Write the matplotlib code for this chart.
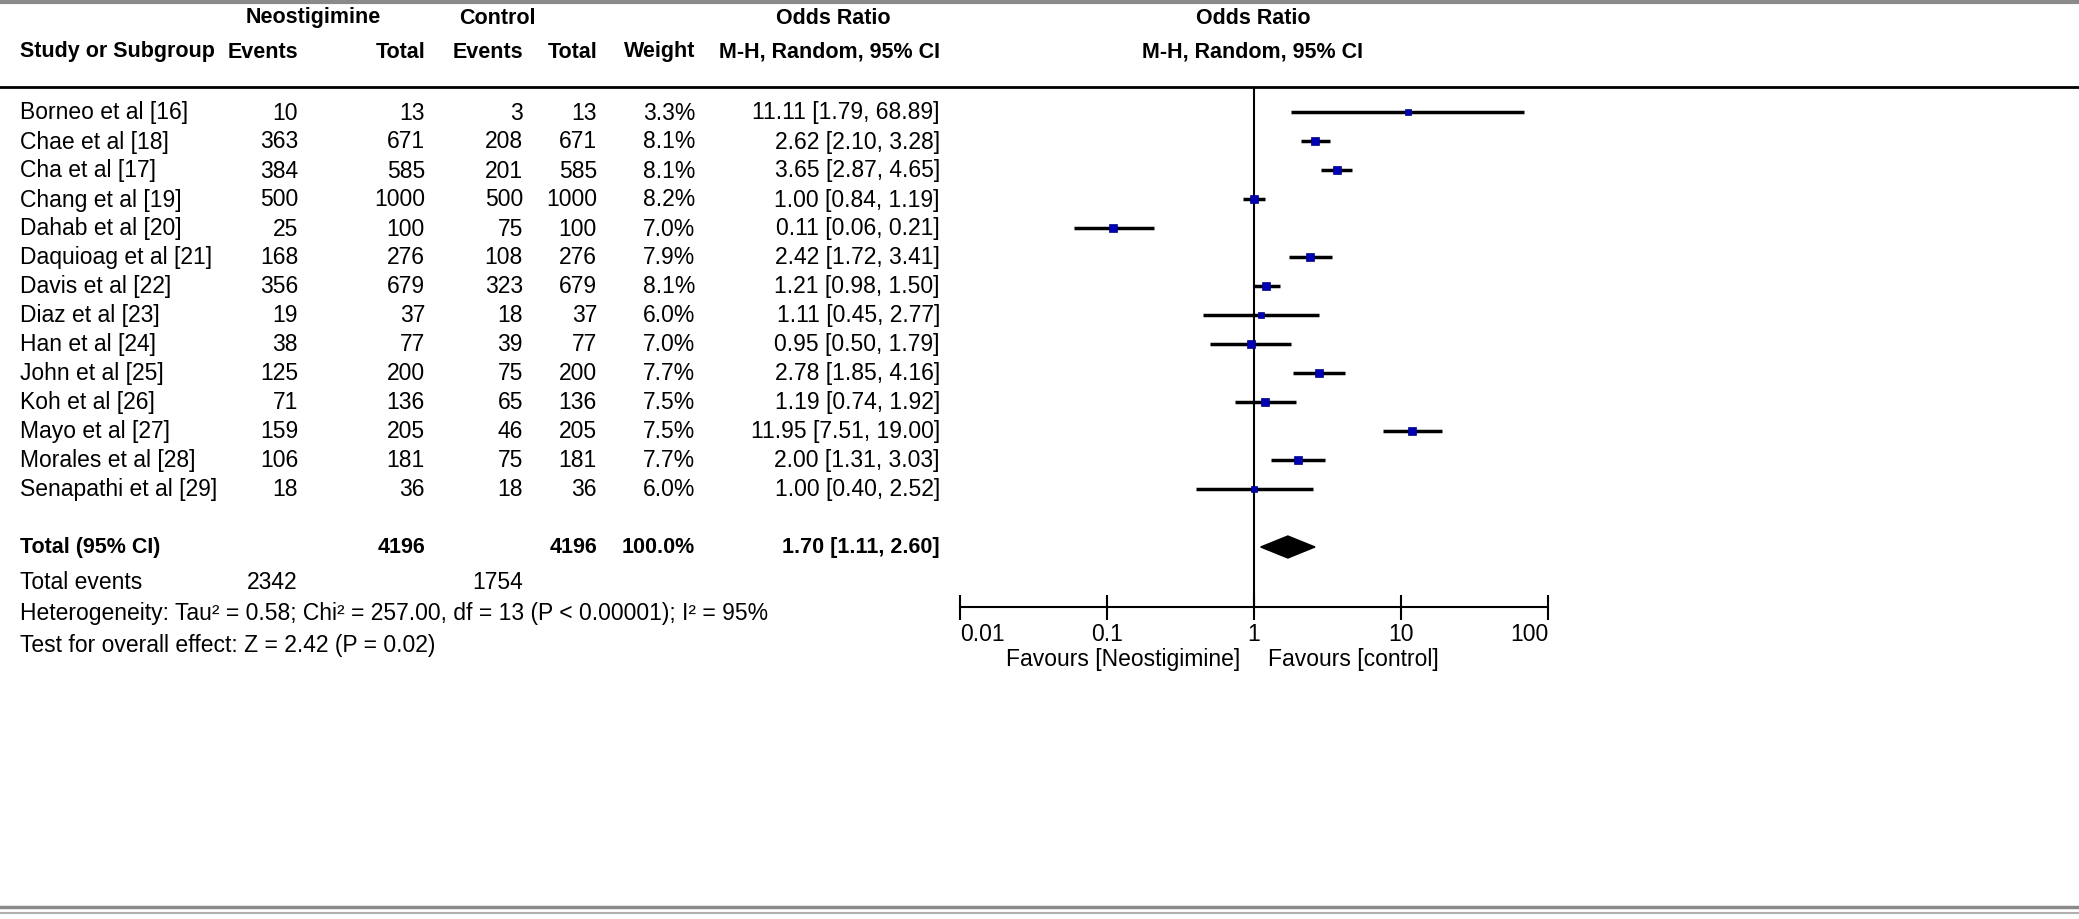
import matplotlib
matplotlib.use('Agg')
import matplotlib.pyplot as plt
from matplotlib.patches import Polygon

plt.rcParams['font.family'] = ['Liberation Sans', 'DejaVu Sans']

studies = ['Borneo et al [16]', 'Chae et al [18]', 'Cha et al [17]', 'Chang et al [19]',
           'Dahab et al [20]', 'Daquioag et al [21]', 'Davis et al [22]', 'Diaz et al [23]',
           'Han et al [24]', 'John et al [25]', 'Koh et al [26]', 'Mayo et al [27]',
           'Morales et al [28]', 'Senapathi et al [29]']
neo_events = [10, 363, 384, 500, 25, 168, 356, 19, 38, 125, 71, 159, 106, 18]
neo_total = [13, 671, 585, 1000, 100, 276, 679, 37, 77, 200, 136, 205, 181, 36]
ctrl_events = [3, 208, 201, 500, 75, 108, 323, 18, 39, 75, 65, 46, 75, 18]
ctrl_total = [13, 671, 585, 1000, 100, 276, 679, 37, 77, 200, 136, 205, 181, 36]
weights = [3.3, 8.1, 8.1, 8.2, 7.0, 7.9, 8.1, 6.0, 7.0, 7.7, 7.5, 7.5, 7.7, 6.0]
or_est = [11.11, 2.62, 3.65, 1.00, 0.11, 2.42, 1.21, 1.11, 0.95, 2.78, 1.19, 11.95, 2.00, 1.00]
ci_lo = [1.79, 2.10, 2.87, 0.84, 0.06, 1.72, 0.98, 0.45, 0.50, 1.85, 0.74, 7.51, 1.31, 0.40]
ci_hi = [68.89, 3.28, 4.65, 1.19, 0.21, 3.41, 1.50, 2.77, 1.79, 4.16, 1.92, 19.00, 3.03, 2.52]

total_neo = 4196
total_ctrl = 4196
total_or = (1.70, 1.11, 2.60)
events_neo = 2342
events_ctrl = 1754
het_text = 'Heterogeneity: Tau\u00b2 = 0.58; Chi\u00b2 = 257.00, df = 13 (P < 0.00001); I\u00b2 = 95%'
effect_text = 'Test for overall effect: Z = 2.42 (P = 0.02)'
xticks = [0.01, 0.1, 1, 10, 100]
xticklabels = ['0.01', '0.1', '1', '10', '100']

W, H = 2079, 920
fig = plt.figure(figsize=(W / 100, H / 100), dpi=100)

# full-figure axes in pixel units for the table text
ax0 = fig.add_axes([0, 0, 1, 1])
ax0.set_xlim(0, W)
ax0.set_ylim(H, 0)
ax0.axis('off')

fs = 16.5
fsb = 15.5
row0, dy = 113, 29
col_x = [298, 425, 523, 597, 695, 940]

# borders and header rule
ax0.axhline(3, color='#8a8a8a', lw=3)
ax0.axhline(908, color='#8a8a8a', lw=2.5)
ax0.axhline(914, color='#b0b0b0', lw=1.5)
ax0.axhline(88, color='black', lw=2)

bold = dict(fontsize=fsb, fontweight='bold', va='center')
ax0.text(313, 18, 'Neostigimine', ha='center', **bold)
ax0.text(497, 18, 'Control', ha='center', **bold)
ax0.text(833, 18, 'Odds Ratio', ha='center', **bold)
ax0.text(1253, 18, 'Odds Ratio', ha='center', **bold)
ax0.text(20, 52, 'Study or Subgroup', ha='left', **bold)
for x, lab in zip(col_x, ['Events', 'Total', 'Events', 'Total', 'Weight', 'M-H, Random, 95% CI']):
    ax0.text(x, 52, lab, ha='right', **bold)
ax0.text(1253, 52, 'M-H, Random, 95% CI', ha='center', **bold)

norm = dict(fontsize=fs, va='center')
for i, s in enumerate(studies):
    y = row0 + i * dy
    ax0.text(20, y, s, ha='left', **norm)
    vals = [str(neo_events[i]), str(neo_total[i]), str(ctrl_events[i]), str(ctrl_total[i]),
            '%.1f%%' % weights[i], '%.2f [%.2f, %.2f]' % (or_est[i], ci_lo[i], ci_hi[i])]
    for x, v in zip(col_x, vals):
        ax0.text(x, y, v, ha='right', **norm)

y_tot = 548
ax0.text(20, y_tot, 'Total (95% CI)', ha='left', **bold)
for x, v in zip(col_x[1:], [str(total_neo), '', str(total_ctrl), '100.0%',
                            '%.2f [%.2f, %.2f]' % total_or]):
    if v:
        ax0.text(x, y_tot, v, ha='right', **bold)

ax0.text(20, 583, 'Total events', ha='left', **norm)
ax0.text(col_x[0], 583, str(events_neo), ha='right', **norm)
ax0.text(col_x[2], 583, str(events_ctrl), ha='right', **norm)
ax0.text(20, 614, het_text, ha='left', **norm)
ax0.text(20, 646, effect_text, ha='left', **norm)

# forest plot axes, x from 960 to 1548 px, y from 88 to 608 px
x0, x1, yt, yb = 960, 1548, 88, 608
ax = fig.add_axes([x0 / W, 1 - yb / H, (x1 - x0) / W, (yb - yt) / H])
ax.set_xscale('log')
ax.set_xlim(0.01, 100)
ax.set_ylim(yb, yt)
ax.patch.set_alpha(0)
for sp in ['top', 'left', 'right']:
    ax.spines[sp].set_visible(False)
ax.spines['bottom'].set_linewidth(1.5)
ax.set_yticks([])
ax.set_xticks(xticks)
ax.set_xticklabels(xticklabels, fontsize=fs)
ax.minorticks_off()
ax.tick_params(axis='x', direction='inout', length=18, width=1.5, pad=2)
tl = ax.get_xticklabels()
tl[0].set_ha('left')
tl[-1].set_ha('right')

ax.axvline(1, color='black', lw=1.5)
for i in range(len(studies)):
    y = row0 + i * dy
    ax.plot([ci_lo[i], ci_hi[i]], [y, y], color='black', lw=2.5, solid_capstyle='butt')
    ax.plot(or_est[i], y, marker='s', color='#0000b4', ms=2 + weights[i] * 0.5,
            mec='#00007a', mew=0.5)

est, lo, hi = total_or
ax.add_patch(Polygon([(lo, y_tot), (est, y_tot - 11), (hi, y_tot), (est, y_tot + 11)],
                     closed=True, color='black'))

ax0.text(1240, 660, 'Favours [Neostigimine]', ha='right', **norm)
ax0.text(1268, 660, 'Favours [control]', ha='left', **norm)

fig.savefig('out.png', dpi=100)
